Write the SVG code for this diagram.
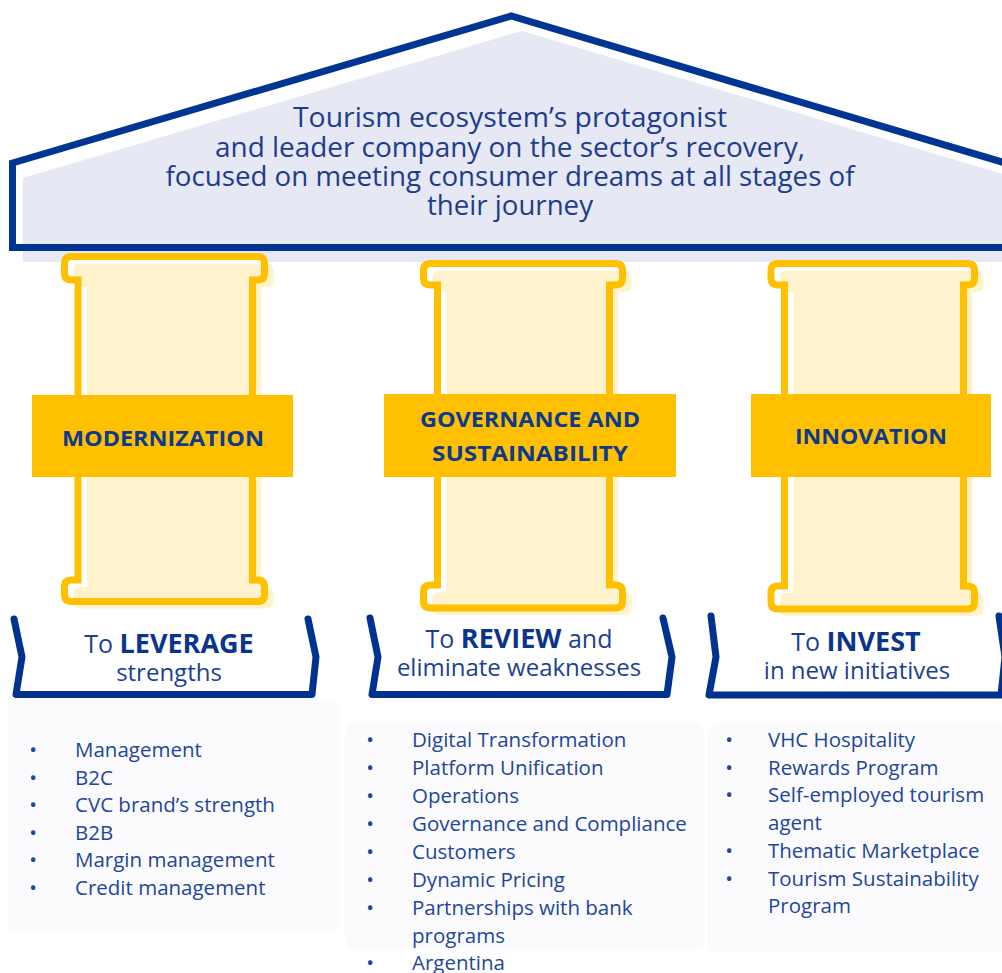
<svg xmlns="http://www.w3.org/2000/svg" width="1002" height="973" viewBox="0 0 1002 973">
<style>
.box{fill:#fbfbfd}
.ol{fill:none;stroke:#003594;stroke-width:7;stroke-linejoin:miter}
.roofT{font-family:"Open Sans","Liberation Sans",sans-serif;font-size:26.5px;fill:#1d3c8e;text-anchor:middle}
.pw{fill:#ffffff}
.pc{fill:#fff2cc}
.po{fill:none;stroke:#ffc000;stroke-width:7}
.band{fill:#ffc000}
.lbl{font-family:"Open Sans","Liberation Sans",sans-serif;font-weight:700;font-size:22px;fill:#0d3a8c;text-anchor:middle}
.bn{fill:none;stroke:#00338f;stroke-width:7;stroke-linecap:round;stroke-linejoin:round}
.bt{font-family:"Open Sans","Liberation Sans",sans-serif;font-size:24px;fill:#1c3f95;text-anchor:middle}
.s25{font-size:25px}
.k{font-weight:700;font-size:27px;fill:#0b358c}
.li{font-family:"Open Sans","Liberation Sans",sans-serif;font-size:20.5px;fill:#22469a}
.bul{text-anchor:middle}
</style>
<defs>
<path id="p1" d="M71.5,256.5 H257.5 Q264.5,256.5 264.5,263.5 V273 Q264.5,280 257.5,280 H252.5 V580 H257.5 Q264.5,580 264.5,587 V594.5 Q264.5,601.5 257.5,601.5 H71.5 Q64.5,601.5 64.5,594.5 V587 Q64.5,580 71.5,580 H78 V280 H71.5 Q64.5,280 64.5,273 V263.5 Q64.5,256.5 71.5,256.5 Z"/>
<path id="p2" d="M430.5,263.5 H615.5 Q622.5,263.5 622.5,270.5 V278 Q622.5,285 615.5,285 H609.5 V585 H615.5 Q622.5,585 622.5,592 V601 Q622.5,608 615.5,608 H430.5 Q423.5,608 423.5,601 V592 Q423.5,585 430.5,585 H437.5 V285 H430.5 Q423.5,285 423.5,278 V270.5 Q423.5,263.5 430.5,263.5 Z"/>
<path id="p3" d="M778,263.5 H967.5 Q974.5,263.5 974.5,270.5 V278 Q974.5,285 967.5,285 H963.5 V586 H967.5 Q974.5,586 974.5,593 V602 Q974.5,609 967.5,609 H778 Q771,609 771,602 V593 Q771,586 778,586 H784.5 V285 H778 Q771,285 771,278 V270.5 Q771,263.5 778,263.5 Z"/>
</defs>

<g id="backgrounds">
<rect class="box" x="8" y="700" width="332" height="232" rx="10"/>
<rect class="box" x="345" y="722" width="360" height="228" rx="10"/>
<rect class="box" x="708" y="722" width="300" height="231" rx="10"/>
</g>

<g id="roof">
<polygon points="23,262 23,178 522,31 1023,180 1023,262" fill="#e6e8f3"/>
<path class="ol" d="M1010,247.5 H12.5 V163 L511,16 L1012,165"/>
<text class="roofT" x="510" y="127" textLength="434" lengthAdjust="spacingAndGlyphs">Tourism ecosystem’s protagonist</text>
<text class="roofT" x="510" y="157" textLength="590" lengthAdjust="spacingAndGlyphs">and leader company on the sector’s recovery,</text>
<text class="roofT" x="510" y="186" textLength="689" lengthAdjust="spacingAndGlyphs">focused on meeting consumer dreams at all stages of</text>
<text class="roofT" x="510" y="215" textLength="166" lengthAdjust="spacingAndGlyphs">their journey</text>
</g>

<g id="pillar-modernization">
<use href="#p1" class="pw"/>
<use href="#p1" class="pc" transform="translate(9,7)"/>
<use href="#p1" class="po"/>
<rect class="band" x="32" y="395" width="261" height="82"/>
<text class="lbl" x="163" y="446" textLength="202" lengthAdjust="spacingAndGlyphs">MODERNIZATION</text>
</g>

<g id="pillar-governance">
<use href="#p2" class="pw"/>
<use href="#p2" class="pc" transform="translate(9,7)"/>
<use href="#p2" class="po"/>
<rect class="band" x="384" y="394" width="292" height="83"/>
<text class="lbl" x="530" y="427" textLength="220" lengthAdjust="spacingAndGlyphs">GOVERNANCE AND</text>
<text class="lbl" x="530" y="461" textLength="196" lengthAdjust="spacingAndGlyphs">SUSTAINABILITY</text>
</g>

<g id="pillar-innovation">
<use href="#p3" class="pw"/>
<use href="#p3" class="pc" transform="translate(9,7)"/>
<use href="#p3" class="po"/>
<rect class="band" x="751" y="394" width="240" height="83"/>
<text class="lbl" x="871" y="444" textLength="152" lengthAdjust="spacingAndGlyphs">INNOVATION</text>
</g>

<g id="connectors"></g>

<g id="banner-leverage">
<path class="bn" d="M14,619 L22,657 L16,694.5 L312,694.5 L316,657 L308,619"/>
<text class="bt" x="169" y="653"><tspan class="s25">To </tspan><tspan class="k">LEVERAGE</tspan></text>
<text class="bt" x="169" y="681">strengths</text>
</g>

<g id="banner-review">
<path class="bn" d="M370,618 L378,657 L372,694.5 L667,694.5 L672,657 L663,618"/>
<text class="bt" x="519" y="648"><tspan class="s25">To </tspan><tspan class="k">REVIEW</tspan><tspan class="s25"> and</tspan></text>
<text class="bt" x="519" y="676">eliminate weaknesses</text>
</g>

<g id="banner-invest">
<path class="bn" d="M711,616 L716,657 L709,695 L1001,695 L1005,657 L999,616"/>
<text class="bt" x="856" y="651"><tspan class="s25">To </tspan><tspan class="k">INVEST</tspan></text>
<text class="bt" x="857" y="679">in new initiatives</text>
</g>

<g id="list-leverage" class="li">
<text class="bul" x="33" y="757">•</text><text x="75" y="757">Management</text>
<text class="bul" x="33" y="784.6">•</text><text x="75" y="784.6">B2C</text>
<text class="bul" x="33" y="812.2">•</text><text x="75" y="812.2">CVC brand’s strength</text>
<text class="bul" x="33" y="839.8">•</text><text x="75" y="839.8">B2B</text>
<text class="bul" x="33" y="867.4">•</text><text x="75" y="867.4">Margin management</text>
<text class="bul" x="33" y="895">•</text><text x="75" y="895">Credit management</text>
</g>

<g id="list-review" class="li">
<text class="bul" x="370" y="747">•</text><text x="412" y="747">Digital Transformation</text>
<text class="bul" x="370" y="775">•</text><text x="412" y="775">Platform Unification</text>
<text class="bul" x="370" y="803">•</text><text x="412" y="803">Operations</text>
<text class="bul" x="370" y="831">•</text><text x="412" y="831">Governance and Compliance</text>
<text class="bul" x="370" y="859">•</text><text x="412" y="859">Customers</text>
<text class="bul" x="370" y="887">•</text><text x="412" y="887">Dynamic Pricing</text>
<text class="bul" x="370" y="915">•</text><text x="412" y="915">Partnerships with bank</text>
<text x="412" y="943">programs</text>
<text class="bul" x="370" y="970">•</text><text x="412" y="970">Argentina</text>
</g>

<g id="list-invest" class="li">
<text class="bul" x="729" y="747">•</text><text x="768" y="747">VHC Hospitality</text>
<text class="bul" x="729" y="774.7">•</text><text x="768" y="774.7">Rewards Program</text>
<text class="bul" x="729" y="802.4">•</text><text x="768" y="802.4">Self-employed tourism</text>
<text x="768" y="830.1">agent</text>
<text class="bul" x="729" y="857.8">•</text><text x="768" y="857.8">Thematic Marketplace</text>
<text class="bul" x="729" y="885.5">•</text><text x="768" y="885.5">Tourism Sustainability</text>
<text x="768" y="913.2">Program</text>
</g>
</svg>
